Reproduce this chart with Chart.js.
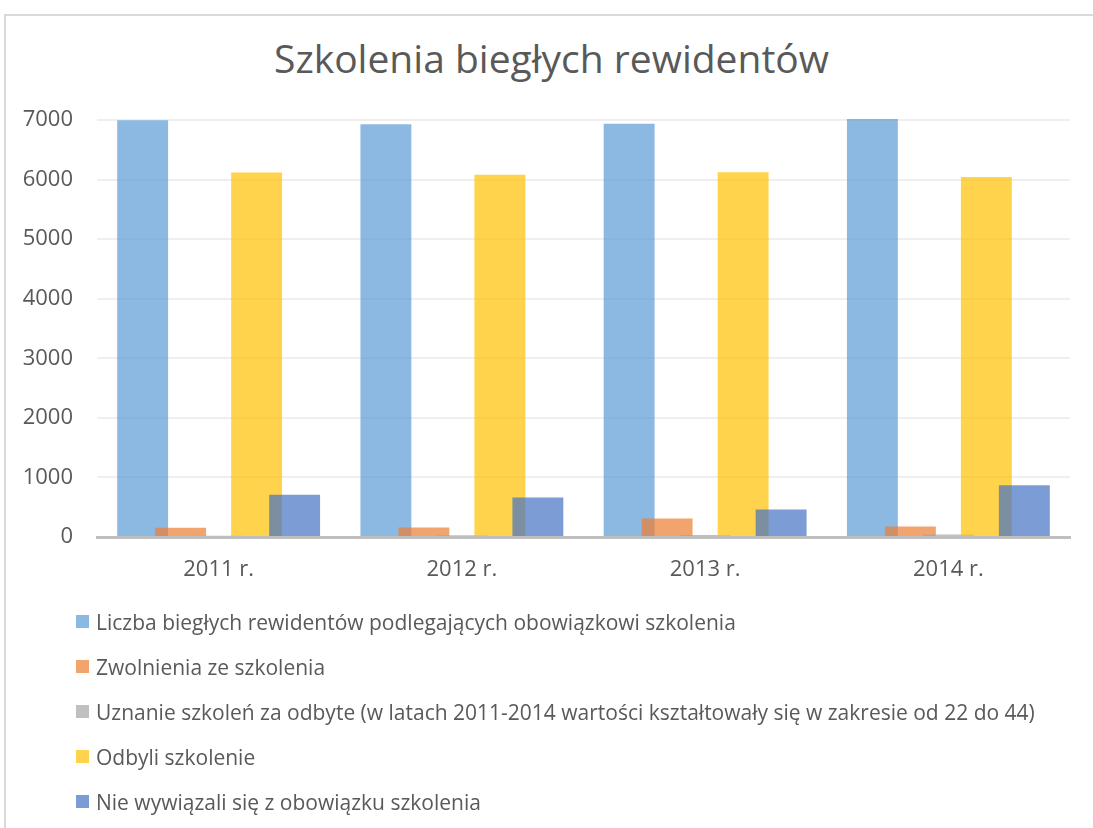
<!DOCTYPE html>
<html lang="pl">
<head>
<meta charset="utf-8">
<title>Szkolenia biegłych rewidentów</title>
<script src="https://cdn.jsdelivr.net/npm/chart.js@4.4.1/dist/chart.umd.min.js"></script>
<style>
    html, body { margin: 0; padding: 0; background: #fff; }
    body { width: 1093px; height: 828px; position: relative; overflow: hidden; font-family: "Open Sans", sans-serif; }
    .frame {
        position: absolute; left: 4px; top: 14px; right: 0; bottom: 0;
        border-top: 2px solid #d9d9d9; border-left: 2px solid #d9d9d9;
    }
    h1 {
        position: absolute; left: 0; top: 35px; width: 1103px; margin: 0;
        text-align: center; font-size: 39px; line-height: 46.8px; font-weight: normal; color: #595959;
    }
    .chart-box { position: absolute; left: 0; top: 0; width: 1093px; height: 600px; }
    #legend { position: absolute; left: 76px; top: 599px; margin: 0; padding: 0; list-style: none; }
    #legend li { display: flex; align-items: center; height: 45px; font-size: 21px; color: #595959; white-space: nowrap; }
    #legend .box { width: 13px; height: 13px; margin-right: 7px; flex: none; }
</style>
</head>
<body>
<div class="frame"></div>
<h1>Szkolenia biegłych rewidentów</h1>
<div class="chart-box"><canvas id="chart" width="1093" height="600"></canvas></div>
<ul id="legend"></ul>

<script>
const years = ['2011 r.', '2012 r.', '2013 r.', '2014 r.'];

const seriesNames = [
    'Liczba biegłych rewidentów podlegających obowiązkowi szkolenia',
    'Zwolnienia ze szkolenia',
    'Uznanie szkoleń za odbyte (w latach 2011-2014 wartości kształtowały się w zakresie od 22 do 44)',
    'Odbyli szkolenie',
    'Nie wywiązali się z obowiązku szkolenia'
];

const liczbaRewidentow = [6995, 6928, 6939, 7017];
const zwolnienia = [154, 160, 310, 176];
const uznanie = [22, 28, 35, 44];
const odbyli = [6117, 6083, 6122, 6045];
const niewywiazali = [708, 663, 461, 869];

const yTicks = [0, 1000, 2000, 3000, 4000, 5000, 6000, 7000];

const colors = [
    'rgba(91, 155, 213, 0.7)',
    'rgba(237, 125, 49, 0.7)',
    'rgba(165, 165, 165, 0.7)',
    'rgba(255, 192, 0, 0.7)',
    'rgba(68, 114, 196, 0.7)'
];

const textColor = '#595959';
const values = [liczbaRewidentow, zwolnienia, uznanie, odbyli, niewywiazali];

const datasets = values.map((data, i) => ({
    label: seriesNames[i],
    data: data,
    backgroundColor: colors[i],
    borderWidth: 0,
    categoryPercentage: 0.781,
    barPercentage: 1.34,
    clip: false
}));

// Chart.js paints the first series last; the overlapping bars need the opposite
const paintInSeriesOrder = {
    id: 'paintInSeriesOrder',
    beforeDatasetsDraw(chart) {
        chart.getSortedVisibleDatasetMetas()
            .slice()
            .sort((a, b) => a.index - b.index)
            .forEach(meta => meta.controller.draw());
        return false;
    }
};

new Chart(document.getElementById('chart'), {
    type: 'bar',
    data: { labels: years, datasets: datasets },
    plugins: [paintInSeriesOrder],
    options: {
        responsive: false,
        animation: false,
        layout: { padding: { left: 0, right: 23, top: 120, bottom: 0 } },
        plugins: {
            legend: { display: false },
            tooltip: { enabled: false },
            title: { display: false }
        },
        scales: {
            x: {
                grid: { display: false, drawTicks: false },
                border: { display: true, color: '#bfbfbf', width: 3 },
                ticks: { color: textColor, font: { family: 'Open Sans', size: 22 }, padding: 20 },
                afterFit: (scale) => { scale.height = 63; }
            },
            y: {
                min: 0,
                max: 7000,
                afterBuildTicks: (scale) => { scale.ticks = yTicks.map(v => ({ value: v })); },
                grid: { color: '#efefef', lineWidth: 2, drawTicks: false },
                border: { display: false },
                ticks: {
                    color: textColor,
                    font: { family: 'Open Sans', size: 22 },
                    padding: 24,
                    callback: (value) => String(value)
                },
                afterFit: (scale) => { scale.width = 97; }
            }
        }
    }
});

// legend built from the same series
const legend = document.getElementById('legend');
seriesNames.forEach((name, i) => {
    const li = document.createElement('li');
    const box = document.createElement('span');
    box.className = 'box';
    box.style.background = colors[i];
    li.appendChild(box);
    li.appendChild(document.createTextNode(name));
    legend.appendChild(li);
});
</script>
</body>
</html>
